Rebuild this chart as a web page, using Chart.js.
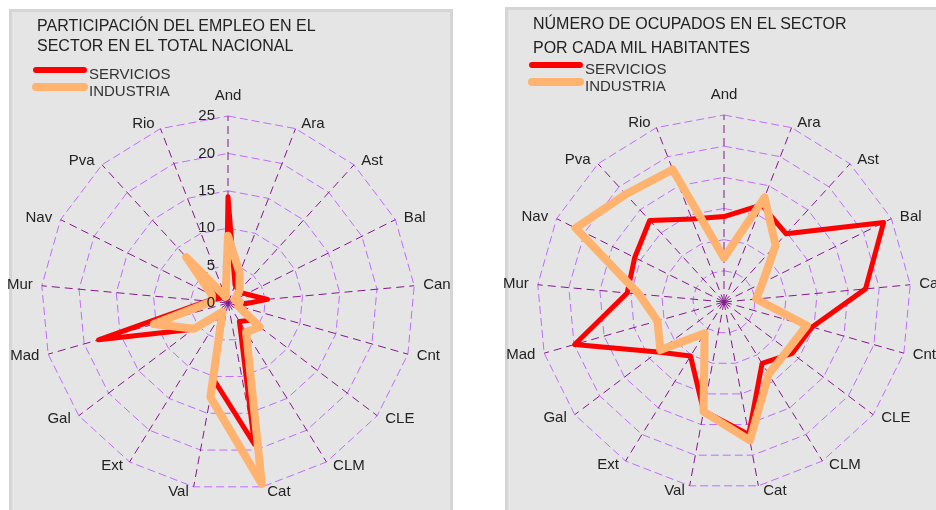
<!DOCTYPE html>
<html lang="es">
<head>
<meta charset="utf-8">
<title>Empleo por comunidades</title>
<script src="https://cdn.jsdelivr.net/npm/chart.js@4.4.1/dist/chart.umd.min.js"></script>
<style>
  html, body { margin: 0; padding: 0; background: #fff; }
  body { width: 936px; height: 510px; position: relative; overflow: hidden;
         font-family: "Liberation Sans", Arial, sans-serif; color: #222; }
  .panel { position: absolute; box-sizing: border-box; background: #e5e5e5;
           border: 3px solid #d5d5d5; border-bottom: none; height: 520px; }
  .title { position: absolute; font-size: 16px; line-height: 16px; white-space: nowrap; color: #222; }
  .leg-line { position: absolute; border-radius: 4px; }
  .leg-text { position: absolute; font-size: 15px; line-height: 15px; white-space: nowrap; color: #333; }
  canvas { position: absolute; top: 0; }
</style>
</head>
<body>
  <div class="panel" style="left:9px; top:9px; width:444px;"></div>
  <div class="panel" style="left:505px; top:7px; width:440px;"></div>

  <canvas id="chart-participacion" width="470" height="510" style="left:0;"></canvas>
  <canvas id="chart-ocupados" width="466" height="510" style="left:470px;"></canvas>

  <div class="title" style="left:37px; top:18px;">PARTICIPACIÓN DEL EMPLEO EN EL</div>
  <div class="title" style="left:37px; top:38px;">SECTOR EN EL TOTAL NACIONAL</div>
  <div class="leg-line" style="left:33px; top:67px; width:54px; height:6px; background:#ff0000;"></div>
  <div class="leg-text" style="left:89px; top:66px;">SERVICIOS</div>
  <div class="leg-line" style="left:32px; top:83px; width:56px; height:8px; background:#ffb36f;"></div>
  <div class="leg-text" style="left:89px; top:83px;">INDUSTRIA</div>

  <div class="title" style="left:533px; top:16px;">NÚMERO DE OCUPADOS EN EL SECTOR</div>
  <div class="title" style="left:533px; top:40px;">POR CADA MIL HABITANTES</div>
  <div class="leg-line" style="left:529px; top:62px; width:54px; height:6px; background:#ff0000;"></div>
  <div class="leg-text" style="left:585px; top:61px;">SERVICIOS</div>
  <div class="leg-line" style="left:528px; top:78px; width:56px; height:8px; background:#ffb36f;"></div>
  <div class="leg-text" style="left:585px; top:78px;">INDUSTRIA</div>

<script>
// Comunidades autónomas, en sentido horario desde arriba
const regiones = ['And', 'Ara', 'Ast', 'Bal', 'Can', 'Cnt', 'CLE', 'CLM', 'Cat',
                  'Val', 'Ext', 'Gal', 'Mad', 'Mur', 'Nav', 'Pva', 'Rio'];

// % del empleo del sector en el total nacional
const partServicios = [14.2, 2.6, 2.1, 2.7, 5.3, 1.2, 3.8, 2.9, 19.2, 10.4, 1.9, 5.8, 18.0, 2.8, 1.3, 3.9, 0.6];
const partIndustria = [9.0, 4.3, 2.3, 1.0, 1.6, 1.4, 5.3, 4.6, 24.6, 12.8, 1.4, 5.7, 10.3, 2.2, 2.4, 8.3, 0.9];
const partTicks = [0, 5, 10, 15, 20, 25];

// ocupados por cada mil habitantes
const ocupServicios = [137, 167, 148, 286, 228, 147, 137, 116, 216, 178, 102, 133, 249, 156, 160, 177, 143];
const ocupIndustria = [71, 180, 123, 69, 52, 138, 128, 136, 226, 179, 59, 128, 111, 137, 266, 234, 228];
const ocupTicks = [0, 50, 100, 150, 200, 250, 300];

const RADIUS = 187;
const RING_COLOR = '#c06cff';
const SPOKE_COLOR = '#86158f';
const TEXT_FONT = '15px "Liberation Sans", Arial, sans-serif';

/**
 * Draw point labels (and optional tick labels) around the radar
 */
const radarText = {
    id: 'radarText',
    afterDatasetsDraw: function(chart, args, opts) {
        const scale = chart.scales.r;
        const ctx = chart.ctx;
        ctx.save();
        ctx.font = TEXT_FONT;
        ctx.fillStyle = '#222';
        ctx.textBaseline = 'middle';

        chart.data.labels.forEach((label, i) => {
            const angle = scale.getIndexAngle(i);
            const s = Math.sin(angle);
            const c = Math.cos(angle);
            const p = scale.getPointPosition(i, scale.drawingArea);
            if (Math.abs(s) < 0.01) {
                ctx.textAlign = 'center';
                ctx.fillText(label, p.x, p.y - 20 * Math.sign(c));
            } else {
                ctx.textAlign = s > 0 ? 'left' : 'right';
                ctx.fillText(label, p.x + Math.sign(s) * (4 + 5 * Math.abs(s)), p.y - 5 * c);
            }
        });

        if (opts.showTicks) {
            ctx.textAlign = 'right';
            scale.ticks.forEach(tick => {
                const y = scale.yCenter - scale.getDistanceFromCenterForValue(tick.value);
                ctx.fillText(String(tick.value), scale.xCenter - 13, y);
            });
        }
        ctx.restore();
    }
};

function buildRadar(canvasId, servicios, industria, ticks, center, showTicks) {
    const ctx = document.getElementById(canvasId).getContext('2d');

    return new Chart(ctx, {
        type: 'radar',
        data: {
            labels: regiones,
            datasets: [{
                label: 'SERVICIOS',
                data: servicios,
                borderColor: '#ff0000',
                borderWidth: 5,
                borderJoinStyle: 'round',
                fill: false,
                pointRadius: 0,
                order: 1
            }, {
                label: 'INDUSTRIA',
                data: industria,
                borderColor: '#ffb36f',
                borderWidth: 8,
                borderJoinStyle: 'round',
                fill: false,
                pointRadius: 0,
                order: 0
            }]
        },
        options: {
            responsive: false,
            animation: false,
            events: [],
            devicePixelRatio: 1,
            layout: { padding: 0 },
            scales: {
                r: {
                    min: ticks[0],
                    max: ticks[ticks.length - 1],
                    ticks: { stepSize: ticks[1] - ticks[0], display: false },
                    pointLabels: { display: false },
                    grid: { color: RING_COLOR, lineWidth: 1 },
                    border: { dash: [8, 4] },
                    angleLines: { color: SPOKE_COLOR, lineWidth: 1, borderDash: [8, 5] },
                    // pin the radar to the same spot as in the original
                    afterFit: function(scale) {
                        scale.xCenter = center.x;
                        scale.yCenter = center.y;
                        scale.drawingArea = RADIUS;
                    }
                }
            },
            plugins: {
                legend: { display: false },
                tooltip: { enabled: false },
                radarText: { showTicks: showTicks }
            }
        },
        plugins: [radarText]
    });
}

buildRadar('chart-participacion', partServicios, partIndustria, partTicks, { x: 228, y: 303 }, true);
buildRadar('chart-ocupados', ocupServicios, ocupIndustria, ocupTicks, { x: 254, y: 302 }, false);
</script>
</body>
</html>
